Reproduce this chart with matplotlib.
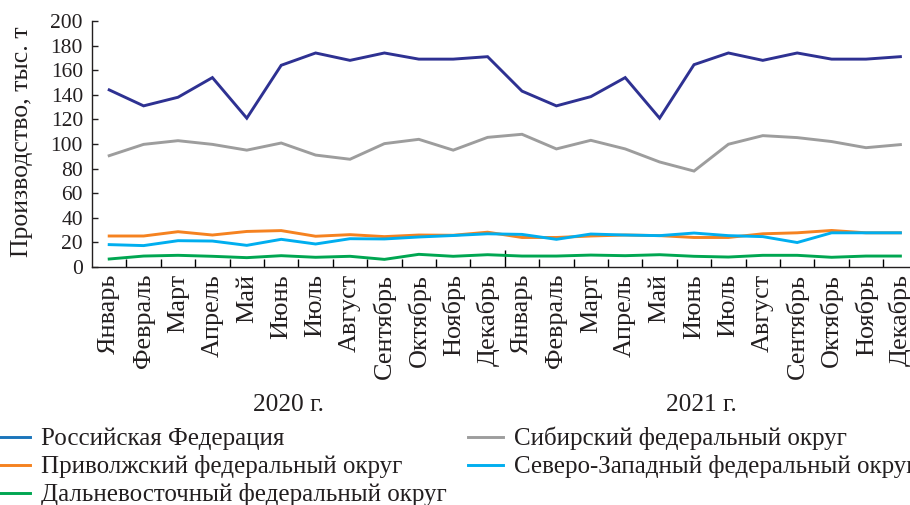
import matplotlib
matplotlib.use("Agg")
import matplotlib.pyplot as plt
import matplotlib.transforms as mtransforms
from matplotlib.lines import Line2D
import numpy as np

plt.rcParams['font.family'] = ['Liberation Serif', 'DejaVu Serif']

months = ["Январь", "Февраль", "Март", "Апрель", "Май", "Июнь", "Июль",
          "Август", "Сентябрь", "Октябрь", "Ноябрь", "Декабрь"]
years = ["2020 г.", "2021 г."]
month_labels = months * 2

russia = [144, 131, 138, 154, 121, 164, 174, 168, 174, 169, 169, 171,
          143, 131, 138.5, 154, 121, 164.5, 174, 168, 174, 169, 169, 171]
siberia = [90.5, 99.7, 102.7, 99.7, 95, 100.8, 91, 87.6, 100.3, 103.8, 95, 105.4,
           107.9, 96, 103, 96, 85.4, 78, 99.8, 106.8, 105.2, 102, 97, 99.5]
volga = [25.2, 25.2, 28.7, 26, 28.9, 29.6, 25, 26.3, 24.7, 26, 25.8, 28.3,
         24, 24, 25.2, 26, 25.5, 24, 24, 27, 27.8, 29.7, 27.8, 27.8]
northwest = [18.2, 17.4, 21.4, 21.1, 17.6, 22.5, 18.7, 23, 22.8, 24.4, 25.6, 27,
             26.5, 22.5, 26.8, 26, 25.5, 27.6, 25.5, 24.7, 19.9, 27.8, 27.8, 27.8]
fareast = [6.5, 8.9, 9.5, 8.7, 7.6, 9.2, 7.9, 8.7, 6.2, 10.3, 8.7, 10,
           8.9, 8.9, 9.7, 9.2, 10, 8.7, 8.1, 9.5, 9.5, 7.9, 8.9, 8.9]

series_names = ["Российская Федерация", "Сибирский федеральный округ",
                "Приволжский федеральный округ", "Северо-Западный федеральный округ",
                "Дальневосточный федеральный округ"]
series = [russia, siberia, volga, northwest, fareast]
line_colors = ["#2E3192", "#9D9D9D", "#F58220", "#00AEEF", "#00A651"]
legend_colors = ["#1B75BB", "#9D9D9D", "#F58220", "#00AEEF", "#00A651"]

W, H = 910, 505
fig = plt.figure(figsize=(W / 100, H / 100), dpi=100)
ax = fig.add_axes([92 / W, 1 - 267 / H, 825.6 / W, 246 / H])

x = np.arange(len(month_labels)) + 0.5
for vals, col in zip(series, line_colors):
    ax.plot(x, vals, color=col, lw=2.1, solid_joinstyle='miter', clip_on=False)

ax.set_xlim(0, len(month_labels))
ax.set_ylim(0, 200)
ax.set_yticks(np.arange(0, 201, 20))
ax.tick_params(axis='y', direction='in', length=4.3, width=1, pad=6.5,
               labelsize=15.5, colors='#231F20')
ax.set_xticks(np.arange(1, len(month_labels)))
ax.set_xticklabels([])
ax.tick_params(axis='x', which='major', direction='in', length=5.8, width=1)
ax.set_xticks(x, minor=True)
ax.set_xticklabels(month_labels, minor=True, rotation=90, va='top', ha='center')
ax.tick_params(axis='x', which='minor', length=0, pad=5, labelsize=18.8,
               colors='#231F20')
# longer tick at year boundary
bt = ax.get_xaxis().get_major_ticks()[11]
bt.tick1line.set_markersize(12.2)

for s in ['top', 'right']:
    ax.spines[s].set_visible(False)
for s in ['left', 'bottom']:
    ax.spines[s].set_color('#231F20')
    ax.spines[s].set_linewidth(1)

ax.set_ylabel("Производство, тыс. т", fontsize=18.5, color='#231F20')
ax.yaxis.set_label_coords(33 / W, 1 - 142 / H, transform=fig.transFigure)

trans = mtransforms.blended_transform_factory(ax.transData, fig.transFigure)
for i, yr in enumerate(years):
    ax.text(6 + 12 * i - 0.3, 1 - 405 / H, yr, transform=trans, ha='center',
            va='center', fontsize=18.3, color='#231F20')

handles = [Line2D([], [], color=c, lw=2.1) for c in legend_colors]
order = [0, 2, 4, 1, 3]
leg = fig.legend([handles[i] for i in order], [series_names[i] for i in order],
                 ncol=2, loc='upper left', bbox_to_anchor=(-5 / W, 1 - 427 / H),
                 frameon=False, fontsize=18, handlelength=1.4, handletextpad=0.45,
                 columnspacing=0.85, labelspacing=0.2, borderpad=0, borderaxespad=0)
for t in leg.get_texts():
    t.set_color('#231F20')

fig.savefig("out.png", dpi=100)
